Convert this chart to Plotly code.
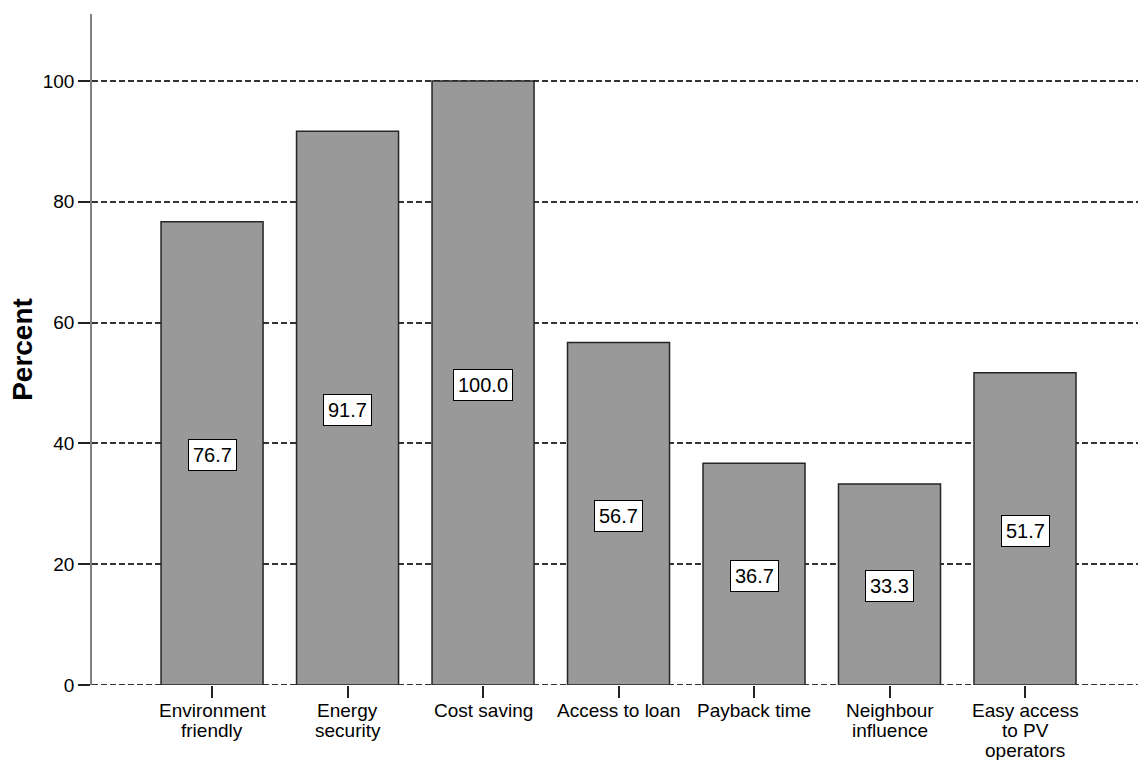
import plotly.graph_objects as go

categories = ["Environment<br>friendly", "Energy<br>security", "Cost saving",
              "Access to loan", "Payback time", "Neighbour<br>influence",
              "Easy access<br>to PV<br>operators"]
values = [76.7, 91.7, 100.0, 56.7, 36.7, 33.3, 51.7]
y_ticks = [0, 20, 40, 60, 80, 100]

xs = list(range(len(categories)))
FONT = "Liberation Sans, Arial, sans-serif"

fig = go.Figure()
fig.add_trace(go.Bar(
    x=xs, y=values, width=0.753,
    marker=dict(color="#999999", line=dict(color="#262626", width=1.5)),
    hoverinfo="skip",
))

# value labels in white boxes at bar middle
for x, v in zip(xs, values):
    fig.add_annotation(
        x=x, y=v / 2, text=f"{v:.1f}", showarrow=False, yshift=-2,
        font=dict(family=FONT, size=20, color="black"),
        bgcolor="white", bordercolor="black", borderwidth=1, borderpad=4,
        xref="x", yref="y",
    )

# category labels (one annotation per line for tight line spacing)
for x, lab in zip(xs, categories):
    for k, line in enumerate(lab.split("<br>")):
        fig.add_annotation(
            x=x, y=0, xref="x", yref="y", text=line, showarrow=False,
            yanchor="top", xanchor="center", yshift=-14 - 20 * k,
            font=dict(family=FONT, size=19, color="black"), borderpad=0,
        )

# dashed line at zero (grid at the axis edge is not drawn by plotly)
fig.add_shape(type="line", xref="paper", yref="y", x0=0, x1=1, y0=0, y1=0,
              line=dict(color="#333", width=2, dash="6px,3px"), layer="below")

fig.update_layout(
    width=1138, height=760,
    margin=dict(l=92, r=0, t=14, b=75),
    paper_bgcolor="white", plot_bgcolor="white",
    showlegend=False,
    font=dict(family=FONT, size=19, color="black"),
    xaxis=dict(
        range=[-0.886, 6.834],
        tickvals=xs, ticktext=[""] * len(xs),
        ticks="outside", ticklen=12, tickwidth=2, tickcolor="#222",
        showgrid=False, zeroline=False, showline=False,
    ),
    yaxis=dict(
        range=[0, 111.1],
        tickvals=y_ticks,
        ticks="outside", ticklen=12, tickwidth=2, tickcolor="#222",
        showgrid=True, gridcolor="#333", griddash="6px,3px", gridwidth=1.5,
        zeroline=False,
        showline=True, linecolor="#808080", linewidth=1.5,
        tickfont=dict(family=FONT, size=19, color="black"),
        title=dict(text="<b>Percent</b>", font=dict(family=FONT, size=28, color="black"),
                   standoff=2),
    ),
)

fig.write_html("out.html")
